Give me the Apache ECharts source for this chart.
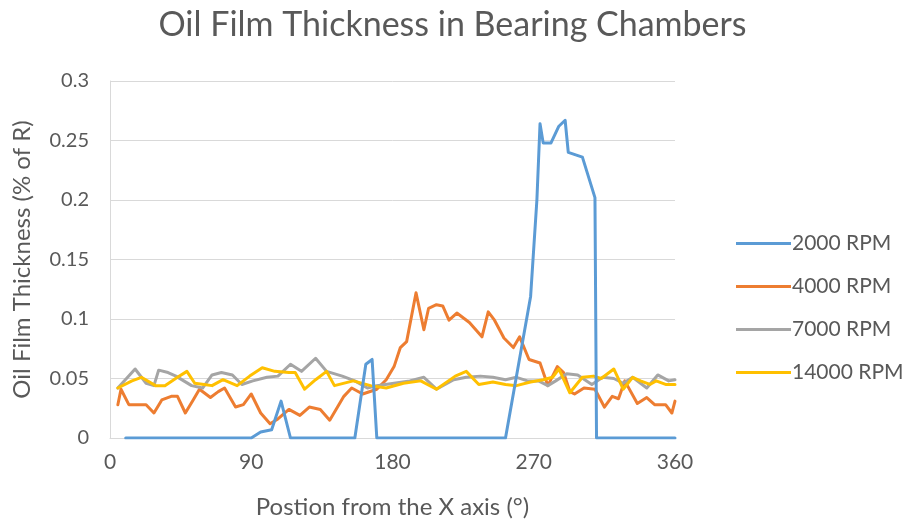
<!DOCTYPE html>
<html>
<head>
<meta charset="utf-8">
<script src="https://cdn.jsdelivr.net/npm/echarts@6/dist/echarts.min.js"></script>
<style>
html,body{margin:0;padding:0;background:#fff;}
#chart{width:905px;height:524px;}
</style>
</head>
<body>
<div id="chart"></div>
<script>
const titleText = "Oil Film Thickness in Bearing Chambers";
const xAxisTitle = "Postion from the X axis (°)";
const yAxisTitle = "Oil Film Thickness (% of R)";
const seriesNames = ["2000 RPM", "4000 RPM", "7000 RPM", "14000 RPM"];
const xTicks = [0, 90, 180, 270, 360];
const yTicks = [0, 0.05, 0.1, 0.15, 0.2, 0.25, 0.3];

const x2000 = [10, 90, 96, 103, 109, 115, 156, 163, 167, 170, 252, 268, 272, 274, 276, 281, 286, 290, 292, 301, 309, 310, 360];
const y2000 = [0, 0, 0.005, 0.007, 0.031, 0, 0, 0.062, 0.066, 0, 0, 0.119, 0.2, 0.264, 0.248, 0.248, 0.262, 0.267, 0.240, 0.236, 0.202, 0, 0];

const x4000 = [5, 7, 12, 18, 23, 28, 33, 39, 43, 48, 53, 57, 64, 69, 73, 80, 85, 90, 96, 102, 107, 114, 121, 127, 134, 140, 149, 154, 161, 170, 176, 181, 185, 189, 195, 200, 203, 208, 212, 216, 221, 229, 237, 241, 245, 251, 257, 261, 267, 274, 279, 285, 289, 293, 296, 302, 309, 315, 320, 324, 328, 336, 342, 347, 354, 358, 360];
const y4000 = [0.028, 0.041, 0.028, 0.028, 0.028, 0.021, 0.032, 0.035, 0.035, 0.021, 0.032, 0.041, 0.034, 0.039, 0.042, 0.026, 0.028, 0.037, 0.021, 0.012, 0.016, 0.024, 0.019, 0.026, 0.024, 0.015, 0.035, 0.042, 0.037, 0.041, 0.049, 0.060, 0.076, 0.081, 0.122, 0.091, 0.109, 0.112, 0.111, 0.099, 0.105, 0.097, 0.085, 0.106, 0.099, 0.084, 0.076, 0.085, 0.066, 0.063, 0.044, 0.060, 0.055, 0.039, 0.037, 0.042, 0.041, 0.026, 0.035, 0.033, 0.048, 0.029, 0.034, 0.028, 0.028, 0.021, 0.031];

const x7000 = [5, 16, 23, 28, 31, 37, 42, 47, 52, 59, 65, 71, 78, 84, 91, 100, 107, 115, 122, 131, 138, 148, 156, 164, 170, 181, 191, 200, 208, 219, 227, 236, 244, 252, 259, 266, 273, 279, 284, 291, 298, 307, 314, 321, 327, 333, 342, 349, 356, 360];
const y7000 = [0.042, 0.058, 0.046, 0.044, 0.057, 0.055, 0.052, 0.048, 0.044, 0.042, 0.053, 0.055, 0.053, 0.045, 0.048, 0.051, 0.052, 0.062, 0.056, 0.067, 0.056, 0.052, 0.048, 0.042, 0.044, 0.046, 0.048, 0.051, 0.041, 0.049, 0.051, 0.052, 0.051, 0.049, 0.051, 0.048, 0.048, 0.044, 0.048, 0.054, 0.053, 0.045, 0.051, 0.050, 0.046, 0.051, 0.042, 0.053, 0.048, 0.049];

const x14000 = [5, 14, 20, 29, 35, 43, 49, 54, 60, 65, 72, 81, 89, 97, 105, 114, 118, 124, 131, 138, 143, 155, 166, 176, 187, 198, 208, 220, 227, 235, 244, 252, 259, 268, 276, 282, 286, 293, 301, 308, 313, 321, 327, 333, 338, 344, 348, 354, 360];
const y14000 = [0.042, 0.048, 0.051, 0.044, 0.044, 0.051, 0.056, 0.046, 0.045, 0.044, 0.049, 0.044, 0.052, 0.059, 0.056, 0.055, 0.055, 0.041, 0.049, 0.056, 0.044, 0.048, 0.044, 0.042, 0.046, 0.048, 0.041, 0.052, 0.056, 0.045, 0.047, 0.045, 0.044, 0.047, 0.049, 0.051, 0.058, 0.038, 0.051, 0.052, 0.050, 0.058, 0.041, 0.051, 0.048, 0.045, 0.048, 0.045, 0.045];

const colors = ["#5B9BD5", "#ED7D31", "#A5A5A5", "#FFC000"];
const xs = [x2000, x4000, x7000, x14000];
const ys = [y2000, y4000, y7000, y14000];
const zs = [5, 2, 3, 4];
const FONT = "Lato";
const TXT = "#595959";

const chart = echarts.init(document.getElementById('chart'), null, {renderer: 'canvas'});
chart.setOption({
  animation: false,
  backgroundColor: '#ffffff',
  color: colors,
  title: {
    text: titleText, left: 'center', top: 3,
    textStyle: {fontFamily: FONT, fontSize: 34, fontWeight: 'normal', color: TXT}
  },
  grid: {left: 110, right: 230, top: 81, bottom: 84.5, containLabel: false},
  legend: {
    orient: 'vertical', left: 731, top: 228,
    icon: 'rect', itemWidth: 55, itemHeight: 3, itemGap: 22,
    textStyle: {fontFamily: FONT, fontSize: 21, color: TXT, padding: [0, 0, 0, -4]},
    data: seriesNames
  },
  xAxis: {
    type: 'value', min: xTicks[0], max: xTicks[xTicks.length - 1], interval: 90,
    name: xAxisTitle, nameLocation: 'middle', nameGap: 57,
    nameTextStyle: {fontFamily: FONT, fontSize: 24, color: TXT},
    axisLine: {show: true, lineStyle: {color: '#D9D9D9', width: 1}},
    axisTick: {show: false},
    splitLine: {show: false},
    axisLabel: {fontFamily: FONT, fontSize: 21, color: TXT, margin: 14}
  },
  yAxis: {
    type: 'value', min: yTicks[0], max: yTicks[yTicks.length - 1], interval: 0.05,
    name: yAxisTitle, nameLocation: 'middle', nameGap: 76,
    nameTextStyle: {fontFamily: FONT, fontSize: 24, color: TXT},
    axisLine: {show: true, lineStyle: {color: '#D9D9D9', width: 1}},
    axisTick: {show: false},
    splitLine: {show: true, lineStyle: {color: '#D9D9D9', width: 1}},
    axisLabel: {fontFamily: FONT, fontSize: 20, color: TXT, margin: 21,
      formatter: v => String(+v.toFixed(2))}
  },
  series: seriesNames.map((name, i) => ({
    name: name, type: 'line', showSymbol: false, symbol: 'none', z: zs[i],
    lineStyle: {width: 3, color: colors[i], cap: 'round', join: 'round'},
    itemStyle: {color: colors[i]},
    data: xs[i].map((x, j) => [x, ys[i][j]])
  }))
});
</script>
</body>
</html>
